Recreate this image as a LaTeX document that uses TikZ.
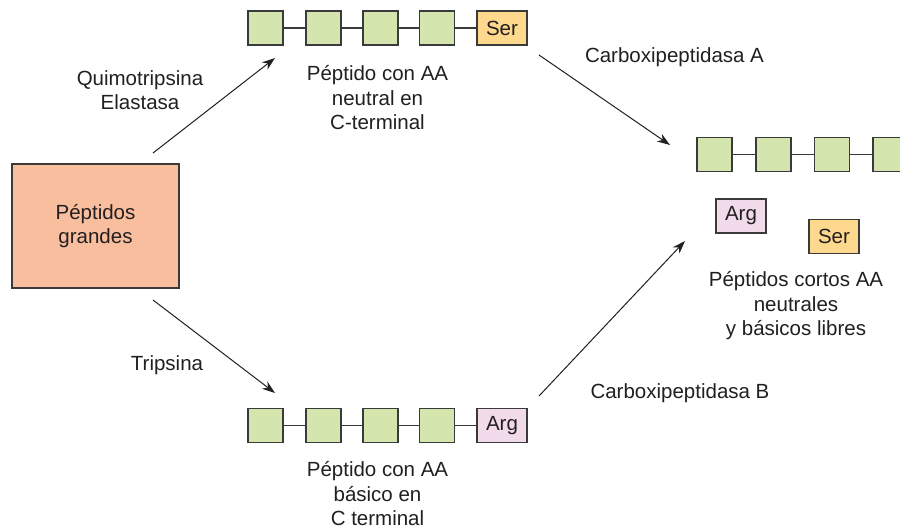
\documentclass[tikz,border=0pt]{standalone}
\usepackage{fontspec}
\setmainfont{Liberation Sans}
\usetikzlibrary{arrows.meta}
\definecolor{salmon}{HTML}{F9BE9E}
\definecolor{aagreen}{HTML}{D5E5AE}
\definecolor{serorange}{HTML}{FED88C}
\definecolor{argpink}{HTML}{F1DAEA}
\definecolor{edge}{HTML}{3A3A3A}
\definecolor{txt}{HTML}{231F20}
\tikzset{
  aa/.style={draw=edge, line width=1.3pt, fill=aagreen, minimum width=35pt, minimum height=34pt, inner sep=0pt},
  ser/.style={draw=edge, line width=1.3pt, fill=serorange, minimum width=50pt, minimum height=34pt, inner sep=0pt, font=\fontsize{20.5}{24}\selectfont, text=txt},
  arg/.style={draw=edge, line width=1.3pt, fill=argpink, minimum width=50pt, minimum height=34pt, inner sep=0pt, font=\fontsize{20.5}{24}\selectfont, text=txt},
  link/.style={draw=edge, line width=1.2pt},
  lbl/.style={align=center, text=txt, font=\fontsize{20.5}{24.5}\selectfont, inner sep=0pt},
  arr/.style={-{Stealth[length=13pt,width=9pt]}, line width=1pt, draw=txt},
  bigbox/.style={draw=edge, line width=1.3pt, fill=salmon, minimum width=167pt, minimum height=124pt, inner sep=0pt, align=center, font=\fontsize{20.5}{24.5}\selectfont, text=txt}
}
\begin{document}
\begin{tikzpicture}[x=1pt, y=-1pt]
\useasboundingbox (0,0) rectangle (900,531);
\clip (0,0) rectangle (900,531);
\fill[white] (0,0) rectangle (900,531);

% big box
\node[bigbox] (big) at (95.5,226) {Péptidos\\grandes};

% top chain
\node[aa] (t1) at (265.5,28) {};
\node[aa] (t2) at (323.5,28) {};
\node[aa] (t3) at (380.5,28) {};
\node[aa] (t4) at (437,28) {};
\node[ser] (t5) at (502,28) {Ser};
\draw[link] (t1.east) -- (t2.west) (t2.east) -- (t3.west) (t3.east) -- (t4.west) (t4.east) -- (t5.west);

% bottom chain
\node[aa] (b1) at (265.5,425.5) {};
\node[aa] (b2) at (323.5,425.5) {};
\node[aa] (b3) at (380.5,425.5) {};
\node[aa] (b4) at (437,425.5) {};
\node[arg] (b5) at (502,425.5) {Arg};
\draw[link] (b1.east) -- (b2.west) (b2.east) -- (b3.west) (b3.east) -- (b4.west) (b4.east) -- (b5.west);

% right chain
\node[aa] (r1) at (714.5,154.5) {};
\node[aa] (r2) at (773.5,154.5) {};
\node[aa] (r3) at (832,154.5) {};
\node[aa] (r4) at (890.5,154.5) {};
\draw[link] (r1.east) -- (r2.west) (r2.east) -- (r3.west) (r3.east) -- (r4.west);

\node[arg] (rarg) at (741,216) {Arg};
\node[ser] (rser) at (834,236.5) {Ser};

% labels
\node[lbl] (lq) at (140,90) {Quimotripsina\\Elastasa};
\node[lbl] (lt) at (167,365) {Tripsina};
\node[lbl] (lca) at (674.5,57) {Carboxipeptidasa A};
\node[lbl] (lcb) at (680,393) {Carboxipeptidasa B};
\node[lbl] (ptop) at (377.5,98) {Péptido con AA\\neutral en\\C-terminal};
\node[lbl] (pbot) at (377.5,494) {Péptido con AA\\básico en\\C terminal};
\node[lbl] (pright) at (796,306) {Péptidos cortos AA\\neutrales\\y básicos libres};

% arrows
\coordinate (a1s) at (153,153);
\coordinate (a1e) at (275,58);
\coordinate (a2s) at (539,55);
\coordinate (a2e) at (670,145);
\coordinate (a3s) at (153,300);
\coordinate (a3e) at (275,393);
\coordinate (a4s) at (539,396);
\coordinate (a4e) at (685,241);
\draw[arr] (a1s) -- (a1e);
\draw[arr] (a2s) -- (a2e);
\draw[arr] (a3s) -- (a3e);
\draw[arr] (a4s) -- (a4e);
\end{tikzpicture}
\end{document}
